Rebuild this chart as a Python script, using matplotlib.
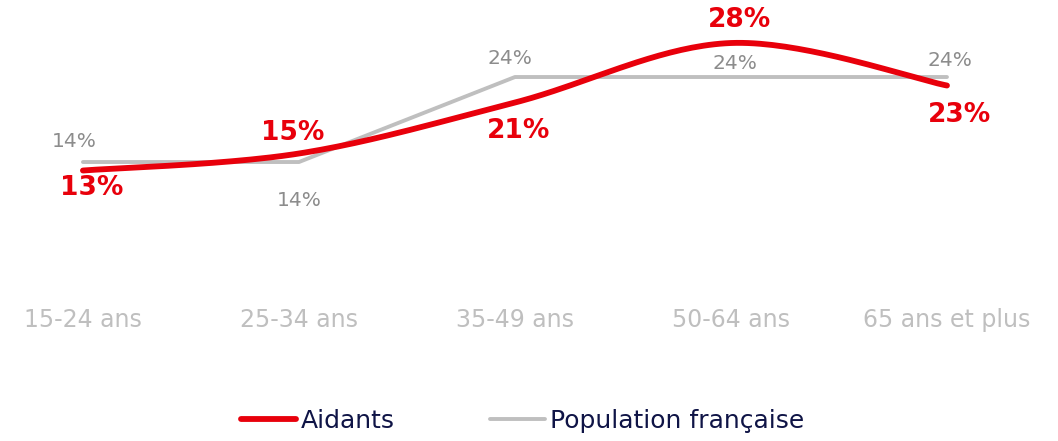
import matplotlib.pyplot as plt
import numpy as np
from matplotlib.lines import Line2D

# Data
categories = ['15-24 ans', '25-34 ans', '35-49 ans', '50-64 ans', '65 ans et plus']
aidants = [13, 15, 21, 28, 23]
population = [14, 14, 24, 24, 24]

red = '#E8000B'
gray = '#BFBFBF'
label_gray = '#8C8C8C'
navy = '#0F1446'

plt.rcParams['font.family'] = ['DejaVu Sans']


def smooth(xs, ys, n=40):
    # Bezier smoothing through the points (like spreadsheet "smoothed line")
    xs = np.asarray(xs, float)
    ys = np.asarray(ys, float)
    px = np.concatenate([[xs[0]], xs, [xs[-1]]])
    py = np.concatenate([[ys[0]], ys, [ys[-1]]])
    outx, outy = [], []
    t = np.linspace(0, 1, n)
    for i in range(1, len(xs)):
        p0 = np.array([px[i], py[i]])
        p3 = np.array([px[i + 1], py[i + 1]])
        c1 = p0 + (np.array([px[i + 1], py[i + 1]]) - np.array([px[i - 1], py[i - 1]])) / 6
        c2 = p3 - (np.array([px[i + 2], py[i + 2]]) - np.array([px[i], py[i]])) / 6
        b = ((1 - t) ** 3)[:, None] * p0 + (3 * (1 - t) ** 2 * t)[:, None] * c1 \
            + (3 * (1 - t) * t ** 2)[:, None] * c2 + (t ** 3)[:, None] * p3
        outx.extend(b[:, 0])
        outy.extend(b[:, 1])
    return outx, outy


fig = plt.figure(figsize=(10.58, 4.41), dpi=100)
ax = fig.add_axes([0, 0, 1, 1])
ax.axis('off')
ax.set_xlim(-0.384, 4.514)
ax.set_ylim(-18.82, 33.06)

x = np.arange(len(categories))

ax.plot(x, population, color=gray, lw=2.8, solid_capstyle='round', zorder=2)
sx, sy = smooth(x, aidants)
ax.plot(sx, sy, color=red, lw=4.2, solid_capstyle='round', zorder=3)

# value labels (offsets in pixels)
red_off = [(9, -17), (-6, 21), (4, -28), (9, 23), (13, -29)]
gray_off = [(-9, 21), (0, -38), (-5, 19), (4, 14), (3, 17)]
for i in range(len(categories)):
    ax.annotate(f'{aidants[i]}%', (x[i], aidants[i]), xytext=red_off[i],
                textcoords='offset pixels', ha='center', va='center',
                color=red, fontsize=19, fontweight='bold', zorder=5)
    ax.annotate(f'{population[i]}%', (x[i], population[i]), xytext=gray_off[i],
                textcoords='offset pixels', ha='center', va='center',
                color=label_gray, fontsize=14.5, zorder=5)

# category labels
for i, c in enumerate(categories):
    ax.text(x[i], -4.6, c, ha='center', va='center', color=gray, fontsize=17)

handles = [Line2D([], [], color=red, lw=4.2, solid_capstyle='round'),
           Line2D([], [], color=gray, lw=2.8, solid_capstyle='round')]
leg = fig.legend(handles, ['Aidants', 'Population française'], loc='center',
                 bbox_to_anchor=(0.494, 0.045), ncol=2, frameon=False,
                 fontsize=18, handlelength=2.2, handletextpad=0.2,
                 columnspacing=3.8)
for t in leg.get_texts():
    t.set_color(navy)

fig.savefig('out.png', dpi=100)
